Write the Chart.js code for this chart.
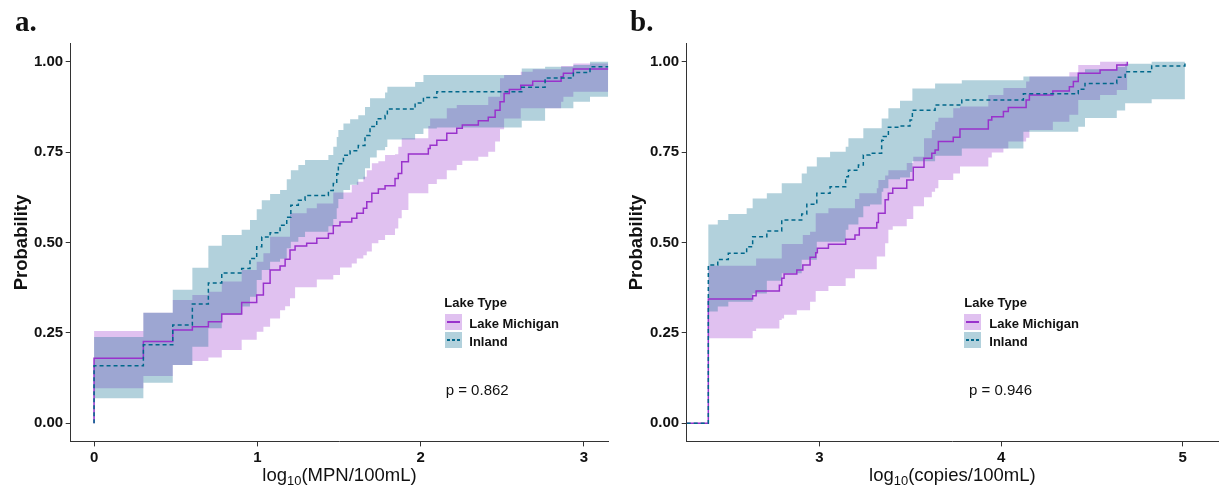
<!DOCTYPE html>
<html>
<head>
<meta charset="utf-8">
<title>Cumulative probability by lake type</title>
<script src="https://cdn.jsdelivr.net/npm/chart.js@4.4.1/dist/chart.umd.min.js"></script>
<style>
  html, body { margin: 0; padding: 0; background: #fff; }
  body { position: relative; width: 1220px; height: 486px; overflow: hidden;
         font-family: "Liberation Sans", Arial, sans-serif; color: #111; }
  canvas { position: absolute; top: 0; }
  #mpnChart { left: 0; }
  #qpcrChart { left: 612px; }
  .tag { position: absolute; top: 7px; font: bold 29px/29px "Liberation Serif", serif; color: #111; }
  .xtitle { position: absolute; top: 466px; font-size: 18.5px; line-height: 18.5px;
            text-align: center; white-space: nowrap; }
  .xtitle sub { font-size: 0.7em; vertical-align: baseline; position: relative; top: 0.28em; }
  .lg-title, .lg-label { position: absolute; font-weight: bold; font-size: 13px; line-height: 13px; white-space: nowrap; }
  .lg-key { position: absolute; width: 16.7px; height: 16.7px; }
  .lg-key i { position: absolute; left: 2px; right: 2px; top: 7.6px; height: 1.5px; }
  .pval { position: absolute; font-size: 15px; line-height: 15px; white-space: nowrap; }
</style>
</head>
<body>
<canvas id="mpnChart" width="612" height="486"></canvas>
<canvas id="qpcrChart" width="608" height="486"></canvas>
<div class="tag" style="left:15px">a.</div>
<div class="tag" style="left:630px">b.</div>
<div class="xtitle" style="left:70.7px; width:537.6px">log<sub>10</sub>(MPN/100mL)</div>
<div class="xtitle" style="left:686.7px; width:531.3px">log<sub>10</sub>(copies/100mL)</div>

<script>
// ---------- data ----------
const probTicks = [0, 0.25, 0.5, 0.75, 1];
const mpnTicks = [0, 1, 2, 3];
const qpcrTicks = [3, 4, 5];
const groupNames = ['Lake Michigan', 'Inland'];
const pValues = ['p = 0.862', 'p = 0.946'];

// a. culture counts, Lake Michigan
const mpnLakeX = [0, 0, 0.302, 0.482, 0.602, 0.700, 0.782, 0.904, 0.996, 1.037, 1.078, 1.139, 1.170, 1.200, 1.231,
  1.302, 1.364, 1.435, 1.465, 1.506, 1.578, 1.609, 1.649, 1.670, 1.701, 1.741, 1.782, 1.843, 1.863, 1.884, 1.925,
  2.047, 2.058, 2.099, 2.160, 2.221, 2.255, 2.353, 2.414, 2.456, 2.486, 2.511, 2.543, 2.613, 2.686, 2.860, 2.874,
  2.935, 3.15];
const mpnLakeEst = [0, 0.180, 0.226, 0.258, 0.267, 0.281, 0.302, 0.334, 0.355, 0.387, 0.424, 0.435, 0.454, 0.479,
  0.490, 0.498, 0.512, 0.525, 0.546, 0.557, 0.567, 0.581, 0.595, 0.613, 0.636, 0.648, 0.657, 0.677, 0.691, 0.723,
  0.745, 0.760, 0.769, 0.783, 0.802, 0.816, 0.825, 0.837, 0.846, 0.866, 0.889, 0.912, 0.923, 0.935, 0.946, 0.958,
  0.968, 0.980, 0.980];
const mpnLakeUpper = [0, 0.255, 0.306, 0.341, 0.355, 0.364, 0.392, 0.424, 0.447, 0.470, 0.516, 0.516, 0.516, 0.581,
  0.581, 0.595, 0.608, 0.608, 0.638, 0.638, 0.659, 0.668, 0.682, 0.700, 0.719, 0.725, 0.742, 0.744, 0.765, 0.788,
  0.788, 0.822, 0.843, 0.843, 0.871, 0.880, 0.880, 0.880, 0.903, 0.903, 0.954, 0.963, 0.963, 0.972, 0.979, 0.988,
  0.988, 0.995, 0.998];
const mpnLakeLower = [0, 0.097, 0.131, 0.161, 0.172, 0.182, 0.203, 0.231, 0.253, 0.267, 0.290, 0.313, 0.324, 0.346,
  0.376, 0.376, 0.398, 0.398, 0.410, 0.431, 0.442, 0.456, 0.465, 0.475, 0.498, 0.507, 0.521, 0.539, 0.567, 0.590,
  0.636, 0.662, 0.662, 0.675, 0.700, 0.714, 0.726, 0.737, 0.751, 0.779, 0.813, 0.843, 0.843, 0.871, 0.871, 0.889,
  0.903, 0.917, 0.921];

// a. culture counts, inland lakes
const mpnInlandX = [0, 0, 0.302, 0.482, 0.602, 0.700, 0.782, 0.904, 0.955, 0.996, 1.027, 1.078, 1.139, 1.180, 1.205,
  1.251, 1.292, 1.435, 1.465, 1.486, 1.496, 1.527, 1.568, 1.618, 1.659, 1.690, 1.731, 1.782, 1.796, 1.966, 2.017,
  2.099, 2.619, 2.762, 2.935, 3.037, 3.15];
const mpnInlandEst = [0, 0.159, 0.217, 0.272, 0.330, 0.388, 0.416, 0.428, 0.456, 0.488, 0.515, 0.527, 0.548, 0.570,
  0.603, 0.617, 0.630, 0.644, 0.663, 0.690, 0.718, 0.741, 0.754, 0.768, 0.796, 0.821, 0.842, 0.851, 0.869, 0.886,
  0.901, 0.917, 0.929, 0.955, 0.970, 0.986, 0.986];
const mpnInlandUpper = [0, 0.239, 0.306, 0.369, 0.430, 0.491, 0.521, 0.535, 0.562, 0.592, 0.617, 0.634, 0.645,
  0.675, 0.700, 0.714, 0.728, 0.742, 0.765, 0.792, 0.811, 0.829, 0.841, 0.852, 0.875, 0.899, 0.899, 0.915, 0.931,
  0.944, 0.963, 0.963, 0.981, 0.986, 0.991, 1.0, 1.0];
const mpnInlandLower = [0, 0.069, 0.112, 0.161, 0.212, 0.263, 0.300, 0.323, 0.350, 0.396, 0.424, 0.447, 0.455,
  0.484, 0.502, 0.515, 0.530, 0.545, 0.565, 0.595, 0.620, 0.645, 0.660, 0.675, 0.705, 0.735, 0.755, 0.764, 0.785,
  0.800, 0.815, 0.818, 0.837, 0.871, 0.889, 0.903, 0.903];

// b. qPCR copies, Lake Michigan
const qpcrLakeX = [2.27, 2.389, 2.633, 2.652, 2.780, 2.793, 2.806, 2.876, 2.909, 2.949, 2.980, 2.989, 3.050, 3.145,
  3.196, 3.220, 3.316, 3.325, 3.362, 3.380, 3.404, 3.481, 3.517, 3.576, 3.619, 3.637, 3.655, 3.737, 3.774, 3.930,
  3.949, 4.013, 4.040, 4.138, 4.156, 4.285, 4.376, 4.398, 4.425, 4.545, 4.637, 4.695];
const qpcrLakeEst = [0, 0.344, 0.353, 0.366, 0.382, 0.401, 0.413, 0.424, 0.438, 0.459, 0.472, 0.484, 0.495, 0.509,
  0.521, 0.540, 0.555, 0.581, 0.618, 0.636, 0.650, 0.673, 0.708, 0.733, 0.747, 0.756, 0.779, 0.791, 0.814, 0.839,
  0.848, 0.862, 0.873, 0.894, 0.908, 0.919, 0.931, 0.945, 0.968, 0.977, 0.991, 1.0];
const qpcrLakeUpper = [0, 0.436, 0.436, 0.456, 0.456, 0.496, 0.496, 0.496, 0.521, 0.530, 0.581, 0.581, 0.595, 0.595,
  0.620, 0.636, 0.650, 0.673, 0.685, 0.700, 0.700, 0.720, 0.737, 0.788, 0.811, 0.834, 0.845, 0.871, 0.876, 0.908,
  0.908, 0.927, 0.927, 0.945, 0.959, 0.959, 0.971, 0.971, 0.991, 1.0, 1.0, 1.0];
const qpcrLakeLower = [0, 0.235, 0.255, 0.262, 0.286, 0.290, 0.300, 0.313, 0.313, 0.336, 0.366, 0.366, 0.380, 0.401,
  0.426, 0.426, 0.461, 0.461, 0.498, 0.535, 0.545, 0.565, 0.600, 0.625, 0.640, 0.650, 0.673, 0.691, 0.710, 0.735,
  0.749, 0.760, 0.779, 0.790, 0.811, 0.834, 0.853, 0.853, 0.894, 0.908, 0.922, 0.922];

// b. qPCR copies, inland lakes
const qpcrInlandX = [2.27, 2.389, 2.441, 2.499, 2.600, 2.633, 2.711, 2.793, 2.903, 2.931, 2.986, 3.059, 3.145, 3.160,
  3.215, 3.242, 3.279, 3.343, 3.352, 3.380, 3.444, 3.499, 3.512, 3.637, 3.784, 4.123, 4.425, 4.462, 4.637, 4.683,
  4.829, 5.012];
const qpcrInlandEst = [0, 0.438, 0.453, 0.470, 0.488, 0.516, 0.532, 0.562, 0.579, 0.606, 0.636, 0.654, 0.682, 0.700,
  0.714, 0.742, 0.747, 0.783, 0.793, 0.819, 0.822, 0.839, 0.866, 0.880, 0.894, 0.911, 0.924, 0.940, 0.957, 0.972,
  0.988, 0.997];
const qpcrInlandUpper = [0, 0.550, 0.562, 0.579, 0.595, 0.622, 0.636, 0.664, 0.691, 0.710, 0.736, 0.751, 0.765,
  0.788, 0.788, 0.816, 0.816, 0.843, 0.843, 0.871, 0.892, 0.892, 0.926, 0.940, 0.949, 0.959, 0.970, 0.979, 0.985,
  0.994, 1.0, 1.0];
const qpcrInlandLower = [0, 0.309, 0.323, 0.336, 0.336, 0.359, 0.394, 0.415, 0.452, 0.452, 0.502, 0.502, 0.535,
  0.550, 0.570, 0.600, 0.605, 0.640, 0.650, 0.675, 0.680, 0.695, 0.725, 0.740, 0.760, 0.806, 0.820, 0.844, 0.865,
  0.885, 0.896, 0.896];

// ---------- styling ----------
const lineColors = ['#9932CC', '#00688B'];
const bandColors = ['rgba(153, 50, 204, 0.3)', 'rgba(0, 104, 139, 0.3)'];
const fontFamily = "'Liberation Sans', Arial, sans-serif";
const tickFont = { family: fontFamily, size: 15, weight: 'bold' };

const toPoints = (xs, ys) => xs.map((x, i) => ({ x: x, y: ys[i] }));

// Chart.js 'before' = hold previous value up to the next x, then jump
const STEP = 'before';

// confidence band: upper edge filled down to the lower edge
function bandPair(xs, upper, lower, color, order) {
  const common = { stepped: STEP, pointRadius: 0, borderWidth: 0, borderColor: 'rgba(0,0,0,0)' };
  return [
    Object.assign({ data: toPoints(xs, upper), fill: '+1', backgroundColor: color, order: order + 1 }, common),
    Object.assign({ data: toPoints(xs, lower), fill: false, order: order }, common)
  ];
}

function stepLine(xs, ys, color, dash, order) {
  return {
    data: toPoints(xs, ys), stepped: STEP, pointRadius: 0, borderWidth: 1.5,
    borderColor: color, borderDash: dash, borderCapStyle: 'butt', fill: false, order: order
  };
}

function drawPanel(id, datasets, xMin, xMax, xTicks, frame) {
  return new Chart(document.getElementById(id), {
    type: 'line',
    data: { datasets: datasets },
    options: {
      responsive: false,
      animation: false,
      devicePixelRatio: 1,
      layout: { padding: { top: 43.6, right: frame.padRight, bottom: 0, left: 0 } },
      plugins: { legend: { display: false }, tooltip: { enabled: false } },
      scales: {
        x: {
          type: 'linear', min: xMin, max: xMax,
          afterFit: (s) => { s.height = 44.6; },
          afterBuildTicks: (s) => { s.ticks = xTicks.map(v => ({ value: v })); },
          ticks: { font: tickFont, color: '#111', padding: 2, maxRotation: 0, callback: v => String(v) },
          grid: { drawOnChartArea: false, drawTicks: true, tickLength: 5, color: '#333', lineWidth: 1 },
          border: { display: true, color: '#333', width: 1 }
        },
        y: {
          type: 'linear', min: -0.05, max: 1.05,
          afterFit: (s) => { s.width = frame.axisWidth; },
          afterBuildTicks: (s) => { s.ticks = probTicks.map(v => ({ value: v })); },
          ticks: { font: tickFont, color: '#111', padding: 2.5, callback: v => v.toFixed(2) },
          grid: { drawOnChartArea: false, drawTicks: true, tickLength: 5, color: '#333', lineWidth: 1 },
          border: { display: true, color: '#333', width: 1 },
          title: {
            display: true, text: 'Probability', color: '#111',
            font: { family: fontFamily, size: 18.5, weight: 'bold', lineHeight: 1.2 },
            padding: { top: frame.titlePad, bottom: 0 }
          }
        }
      }
    }
  });
}

drawPanel('mpnChart', [
  ...bandPair(mpnLakeX, mpnLakeUpper, mpnLakeLower, bandColors[0], 5),
  ...bandPair(mpnInlandX, mpnInlandUpper, mpnInlandLower, bandColors[1], 3),
  stepLine(mpnLakeX, mpnLakeEst, lineColors[0], [], 2),
  stepLine(mpnInlandX, mpnInlandEst, lineColors[1], [4, 3], 1)
], -0.143, 3.149, mpnTicks, { axisWidth: 70.7, padRight: 3.7, titlePad: 10.6 });

drawPanel('qpcrChart', [
  ...bandPair(qpcrLakeX, qpcrLakeUpper, qpcrLakeLower, bandColors[0], 5),
  ...bandPair(qpcrInlandX, qpcrInlandUpper, qpcrInlandLower, bandColors[1], 3),
  stepLine(qpcrLakeX, qpcrLakeEst, lineColors[0], [], 2),
  stepLine(qpcrInlandX, qpcrInlandEst, lineColors[1], [4, 3], 1)
], 2.27, 5.194, qpcrTicks, { axisWidth: 74.7, padRight: 2, titlePad: 13.6 });

// ---------- legend + p-value labels ----------
function addDiv(cls, left, top, text) {
  const d = document.createElement('div');
  d.className = cls;
  d.style.left = left + 'px';
  d.style.top = top + 'px';
  if (text) d.textContent = text;
  document.body.appendChild(d);
  return d;
}

function addLegend(titleLeft, keyLeft, labelLeft, pLeft, pText) {
  addDiv('lg-title', titleLeft, 296, 'Lake Type');
  const keyTops = [313.5, 331.6];
  const labelTops = [316.5, 334.6];
  groupNames.forEach((name, i) => {
    const key = addDiv('lg-key', keyLeft, keyTops[i]);
    key.style.background = bandColors[i];
    const line = document.createElement('i');
    line.style.background = i === 0 ? lineColors[0]
      : 'repeating-linear-gradient(90deg, ' + lineColors[1] + ' 0 3px, transparent 3px 5px)';
    key.appendChild(line);
    addDiv('lg-label', labelLeft, labelTops[i], name);
  });
  addDiv('pval', pLeft, 381.6, pText);
}

addLegend(444.3, 445, 469.3, 445.7, pValues[0]);
addLegend(964.3, 964.3, 989.3, 969, pValues[1]);
</script>
</body>
</html>
